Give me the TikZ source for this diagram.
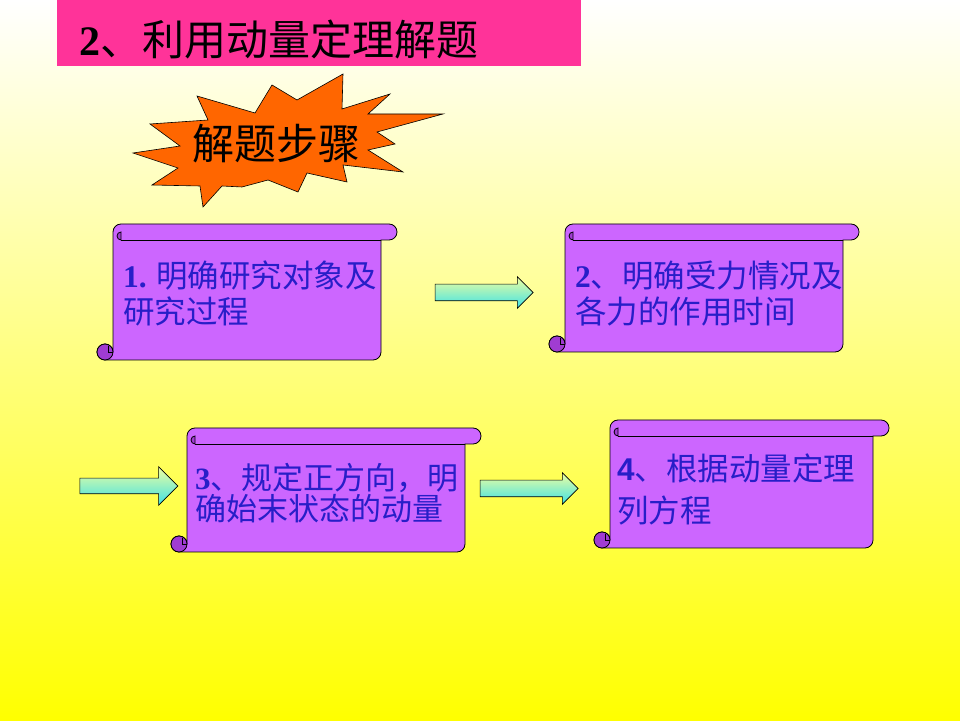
\documentclass[tikz,border=0pt]{standalone}
\usepackage{fontspec}
\setmainfont{Liberation Serif}
\newfontfamily\cjk{Noto Sans CJK SC}
\newfontfamily\numfont{Liberation Serif}
\newfontfamily\sansnum{Liberation Sans}
\usepackage{tikz}
\usetikzlibrary{shapes,arrows}
\usetikzlibrary{positioning}

\definecolor{titlepink}{RGB}{255,51,153}
\definecolor{burstorange}{RGB}{255,102,0}
\definecolor{scrollfill}{RGB}{204,102,255}
\definecolor{scrolldark}{RGB}{160,60,210}
\definecolor{stepblue}{RGB}{40,30,200}
\definecolor{arrowtop}{RGB}{240,255,160}
\definecolor{arrowbot}{RGB}{60,225,230}

\tikzset{
  steplabel/.style={anchor=west, align=left, inner sep=0pt, text=stepblue, font=\cjk\fontsize{31.5}{36}\selectfont},
  flowarrow/.style={single arrow, draw, line width=0.6pt, top color=arrowtop, bottom color=arrowbot, inner xsep=0pt, inner ysep=8pt, single arrow head indent=0pt, minimum height=98pt, single arrow head extend=7.5pt}
}

% scroll: left, top, right, bottom
\newcommand{\stepscroll}[4]{%
  \filldraw[fill=scrollfill, line width=0.8pt]
    (#1,#4+8) -- (#1,#2-8) arc[start angle=180, end angle=90, radius=8]
    -- (#3+8,#2) arc[start angle=90, end angle=-90, radius=8]
    -- (#3,#2-16) -- (#3,#4+8) arc[start angle=0, end angle=-90, radius=8]
    -- (#1-8,#4) arc[start angle=270, end angle=90, radius=8]
    arc[start angle=90, end angle=0, radius=8] -- cycle;
  \draw[line width=0.8pt] (#1+8,#2-16) -- (#3,#2-16);
  \filldraw[fill=scrolldark, line width=0.8pt] (#1+8,#2-8) arc[start angle=90, end angle=270, radius=4] -- cycle;
  \filldraw[fill=scrolldark, line width=0.8pt] (#1-8,#4+8) circle[radius=8];
  \draw[line width=0.8pt] (#1-5,#4+14) -- (#1-5,#4+8) -- (#1,#4+8);
}

\begin{document}
\begin{tikzpicture}[x=1pt, y=1pt]
\useasboundingbox (0,0) rectangle (960,720);
\shade[top color=white, bottom color=yellow] (0,0) rectangle (960,720);

\node[fill=titlepink, anchor=north west, minimum width=524pt, minimum height=66pt, inner sep=0pt] (titlebar) at (57,720) {};
\node[anchor=west, inner sep=0pt, font=\cjk\fontsize{42}{48}\selectfont] (title) at (79,680) {{\numfont\bfseries 2}、利用动量定理解题};

% burst
\filldraw[fill=burstorange, line width=0.6pt]
  (133,567) -- (180,574) -- (150,596) -- (208,600) -- (197,624) -- (255,607) -- (272,635)
  -- (297,620) -- (343,646) -- (342,611) -- (390,626) -- (368,606) -- (443,606) -- (377,588)
  -- (395,576) -- (368,570) -- (403,548) -- (343,555) -- (347,538) -- (307,547) -- (298,528)
  -- (268,540) -- (242,533) -- (222,534) -- (203,513) -- (200,534) -- (152,535) -- (178,552) -- cycle;
\node[inner sep=0pt, font=\cjk\fontsize{42}{46}\selectfont] (burst) at (276,576) {解题步骤};

\stepscroll{113}{496}{381}{360}
\stepscroll{565}{496}{843}{368}
\stepscroll{187}{292}{465}{168}
\stepscroll{610}{300}{873}{172}

\node[steplabel] (step1) at (123,426.5) {{\numfont\bfseries 1.} 明确研究对象及\\研究过程};
\node[steplabel] (step2) at (575,426) {{\numfont\bfseries 2}、明确受力情况及\\各力的作用时间};
\node[steplabel, font=\cjk\fontsize{31}{31}\selectfont] (step3) at (195,227) {{\numfont\bfseries 3}、规定正方向，明\\确始末状态的动量};
\node[steplabel, font=\cjk\fontsize{31.5}{42}\selectfont] (step4) at (617,231) {{\sansnum\bfseries 4}、根据动量定理\\列方程};

\node[flowarrow] (arrow12) at (480,427.5) {};
\node[flowarrow, inner ysep=7.5pt, single arrow head extend=11.5pt] (arrow23) at (125,234) {};
\node[flowarrow] (arrow34) at (525,231.5) {};
\end{tikzpicture}
\end{document}
